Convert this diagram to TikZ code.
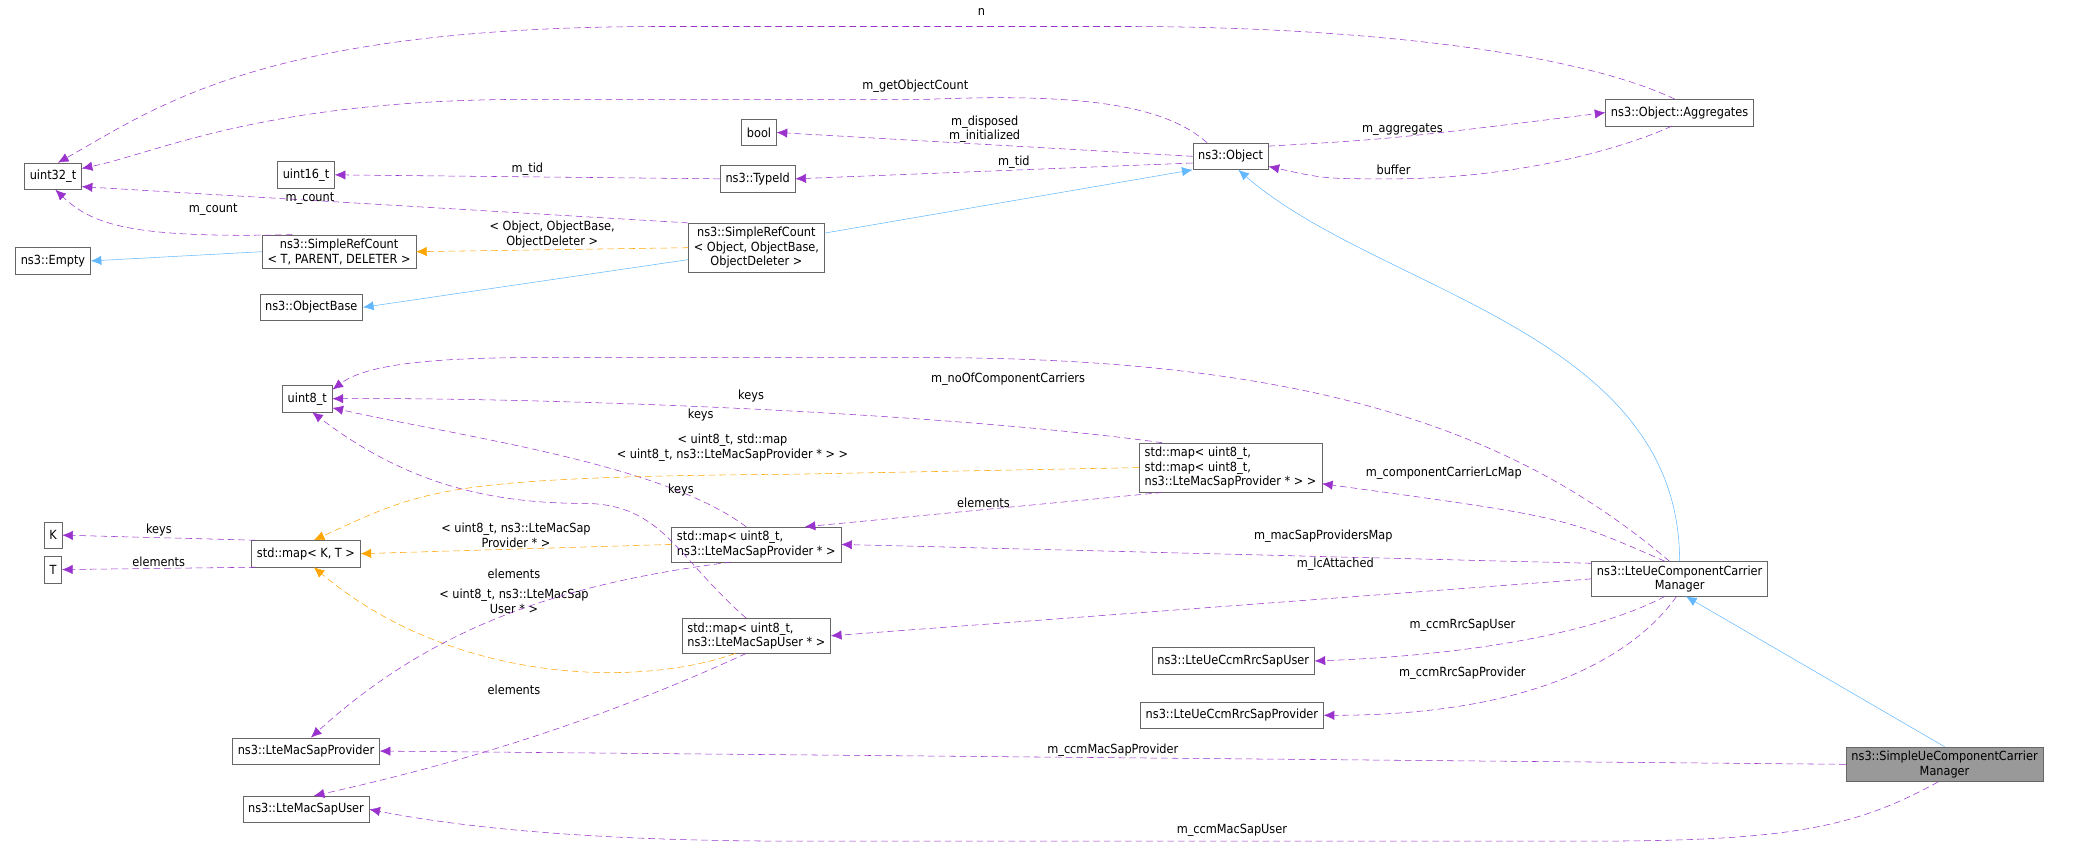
\documentclass[tikz,border=0pt]{standalone}
\usepackage{fontspec}
\setmainfont{DejaVu Sans Condensed}
\usetikzlibrary{arrows.meta,positioning}
\definecolor{memc}{HTML}{9A32CD}
\definecolor{tplc}{HTML}{FFA500}
\definecolor{inhc}{HTML}{63B8FF}
\tikzset{
  cls/.style={draw=black!60,fill=white,font=\fontsize{9.5}{11}\selectfont,inner xsep=4pt,inner ysep=3pt,minimum height=20pt,align=center},
  mem/.style={draw=memc,dashed,dash pattern=on 5pt off 3pt,-{Latex[length=8pt,width=7pt]}},
  tpl/.style={draw=tplc,dashed,dash pattern=on 5pt off 3pt,-{Latex[length=8pt,width=7pt]}},
  inh/.style={draw=inhc,-{Latex[length=8pt,width=7pt]}},
  lbl/.style={font=\fontsize{9.5}{11}\selectfont,inner sep=1pt,align=center}
}
\begin{document}
\begin{tikzpicture}[x=1pt,y=-1pt]
\useasboundingbox (0,0) rectangle (1568,640);
% classes
\node[cls] (u32) at (40,133) {uint32\_t};
\node[cls] (u16) at (231,132) {uint16\_t};
\node[cls] (bool) at (573,100) {bool};
\node[cls] (tid) at (572,135) {ns3::TypeId};
\node[cls] (obj) at (929,118) {ns3::Object};
\node[cls] (aggr) at (1268,85) {ns3::Object::Aggregates};
\node[cls] (srct) at (256,190) {ns3::SimpleRefCount\\\textless{} T, PARENT, DELETER \textgreater};
\node[cls] (srco) at (571,187) {ns3::SimpleRefCount\\\textless{} Object, ObjectBase,\\ObjectDeleter \textgreater};
\node[cls] (empty) at (40,197) {ns3::Empty};
\node[cls] (objbase) at (235,232) {ns3::ObjectBase};
\node[cls] (u8) at (232,301) {uint8\_t};
\node[cls,align=left] (mapmap) at (929,353) {std::map\textless{} uint8\_t,\\ std::map\textless{} uint8\_t,\\ ns3::LteMacSapProvider * \textgreater{} \textgreater};
\node[cls] (k) at (40,404) {K};
\node[cls] (t) at (40,430) {T};
\node[cls] (mapkt) at (231,418) {std::map\textless{} K, T \textgreater};
\node[cls,align=left] (mapprov) at (571,411) {std::map\textless{} uint8\_t,\\ ns3::LteMacSapProvider * \textgreater};
\node[cls,align=left] (mapuser) at (571,480) {std::map\textless{} uint8\_t,\\ ns3::LteMacSapUser * \textgreater};
\node[cls] (ccm) at (1268,437) {ns3::LteUeComponentCarrier\\Manager};
\node[cls] (rrcuser) at (931,499) {ns3::LteUeCcmRrcSapUser};
\node[cls] (rrcprov) at (930,540) {ns3::LteUeCcmRrcSapProvider};
\node[cls] (macprov) at (231,567) {ns3::LteMacSapProvider};
\node[cls] (macuser) at (231,611) {ns3::LteMacSapUser};
\node[cls,fill=black!40] (simple) at (1468,577) {ns3::SimpleUeComponentCarrier\\Manager};
% inheritance
\draw[inh] (srco.east |- 0,176) -- (obj.south west);
\draw[inh] (srct.west) -- (empty.east);
\draw[inh] (srco.west |- 0,196) -- (objbase.east);
\draw[inh] (ccm.north) .. controls (1268,250) and (1040,220) .. (obj.-60);
\draw[inh] (simple.north) -- (ccm.-70);
% members
\draw[mem] (aggr.110) .. controls (1180,35) and (1000,20) .. (850,20) -- (500,20) .. controls (200,20) and (120,80) .. (u32.70) node[lbl] at (741,9) {n};
\draw[mem] (obj.150) .. controls (880,80) and (820,70) .. (700,75) -- (400,75) .. controls (200,75) and (120,115) .. (u32.15) node[lbl] at (691,65) {m\_getObjectCount};
\draw[mem] (obj.west) -- (bool.east) node[lbl,midway,above] {m\_disposed\\m\_initialized};
\draw[mem] (obj.-170) -- (tid.east) node[lbl,pos=0.45,above] {m\_tid};
\draw[mem] (obj.15) .. controls (1050,105) .. (aggr.west) node[lbl,pos=0.5,above] {m\_aggregates};
\draw[mem] (aggr.-120) .. controls (1230,110) and (1150,135) .. (1050,135) .. controls (1000,135) .. (obj.-15) node[lbl] at (1052,128) {buffer};
\draw[mem] (tid.west) -- (u16.east) node[lbl,midway,above] {m\_tid};
\draw[mem] (srco.160) -- (u32.-20) node[lbl] at (234,150) {m\_count};
\draw[mem] (srct.160) .. controls (100,180) and (70,170) .. (u32.-80) node[lbl] at (161,158) {m\_count};
\draw[tpl] (srco.west) -- (srct.east) node[lbl,midway,above] {\textless{} Object, ObjectBase,\\ObjectDeleter \textgreater};
\draw[mem] (ccm.120) .. controls (1150,330) and (1000,270) .. (700,270) -- (400,270) .. controls (300,270) and (270,280) .. (u8.20) node[lbl] at (761,286) {m\_noOfComponentCarriers};
\draw[mem] (mapmap.160) .. controls (700,310) and (400,300) .. (u8.east) node[lbl] at (567,299) {keys};
\draw[mem] (mapprov.120) .. controls (500,350) and (350,330) .. (u8.-20) node[lbl] at (529,313) {keys};
\draw[mem] (mapuser.120) .. controls (510,420) and (500,380) .. (440,380) .. controls (360,380) and (300,360) .. (u8.-70) node[lbl] at (514,370) {keys};
\draw[tpl] (mapmap.west) -- (600,358) .. controls (330,360) and (320,370) .. (mapkt.60) node[lbl] at (553,338) {\textless{} uint8\_t, std::map\\\textless{} uint8\_t, ns3::LteMacSapProvider * \textgreater{} \textgreater};
\draw[tpl] (mapprov.west) -- (mapkt.east) node[lbl,midway,above] {\textless{} uint8\_t, ns3::LteMacSap\\Provider * \textgreater};
\draw[tpl] (mapuser.-140) .. controls (480,520) and (340,515) .. (mapkt.-60) node[lbl] at (388,454) {\textless{} uint8\_t, ns3::LteMacSap\\User * \textgreater};
\draw[mem] (mapkt.165) -- (k.east) node[lbl,midway,above] {keys};
\draw[mem] (mapkt.-165) -- (t.east) node[lbl,midway,above] {elements};
\draw[mem] (mapmap.-160) -- (mapprov.20) node[lbl,midway,above] {elements};
\draw[mem] (ccm.130) .. controls (1180,390) .. (mapmap.-10) node[lbl] at (1090,357) {m\_componentCarrierLcMap};
\draw[mem] (ccm.170) -- (mapprov.east) node[lbl] at (999,405) {m\_macSapProvidersMap};
\draw[mem] (ccm.west) -- (mapuser.east) node[lbl] at (1008,426) {m\_lcAttached};
\draw[mem] (ccm.-130) .. controls (1200,480) and (1100,495) .. (rrcuser.east) node[lbl] at (1104,472) {m\_ccmRrcSapUser};
\draw[mem] (ccm.-100) .. controls (1230,500) and (1150,540) .. (rrcprov.east) node[lbl] at (1104,508) {m\_ccmRrcSapProvider};
\draw[mem] (mapprov.-145) .. controls (430,440) and (330,470) .. (macprov.70) node[lbl] at (388,433) {elements};
\draw[mem] (mapuser.-120) .. controls (440,550) and (330,580) .. (macuser.60) node[lbl] at (388,521) {elements};
\draw[mem] (simple.west) -- (macprov.east) node[lbl,midway,above] {m\_ccmMacSapProvider};
\draw[mem] (simple.-110) .. controls (1400,625) and (1350,635) .. (1200,635) -- (600,635) .. controls (450,635) and (350,625) .. (macuser.east) node[lbl] at (930,627) {m\_ccmMacSapUser};
\end{tikzpicture}
\end{document}
